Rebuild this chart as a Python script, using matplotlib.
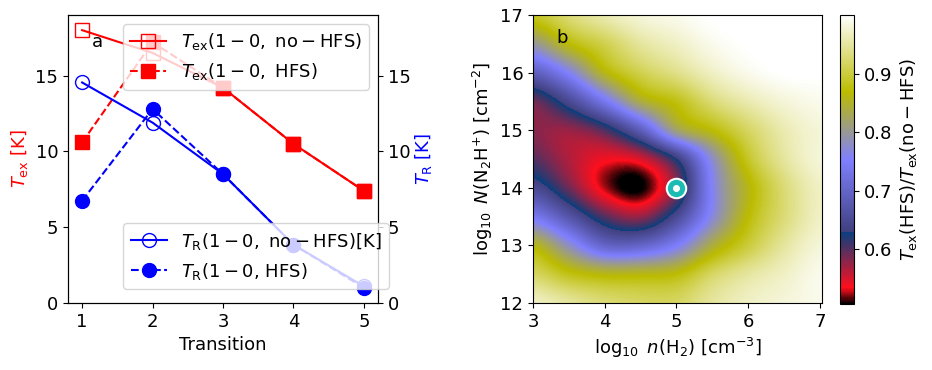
import numpy as np
import matplotlib
matplotlib.use("Agg")
import matplotlib.pyplot as plt

plt.rcParams['font.size'] = 13

# panel a: five transitions
transition = [1, 2, 3, 4, 5]
tex_nohfs = [18.0, 16.5, 14.2, 10.5, 7.4]
tex_hfs = [10.6, 17.2, 14.2, 10.5, 7.4]
tr_nohfs = [14.55, 11.9, 8.5, 3.85, 1.1]
tr_hfs = [6.75, 12.8, 8.5, 3.85, 1.0]

# panel b: ratio Tex(HFS)/Tex(no-HFS) on a coarse grid (read from the map)
log_n = [3.0, 3.5, 4.0, 4.5, 5.0, 5.5, 6.0, 6.5, 7.0]
log_N = [12.0, 12.5, 13.0, 13.5, 14.0, 14.5, 15.0, 15.5, 16.0, 16.5, 17.0]
ratio = [
    [0.97, 0.95, 0.93, 0.92, 0.92, 0.95, 0.97, 0.98, 0.99],  # 12.0
    [0.92, 0.88, 0.86, 0.86, 0.87, 0.92, 0.95, 0.97, 0.99],  # 12.5
    [0.86, 0.78, 0.70, 0.70, 0.75, 0.84, 0.90, 0.95, 0.98],  # 13.0
    [0.74, 0.67, 0.60, 0.575, 0.65, 0.77, 0.87, 0.93, 0.97],  # 13.5
    [0.65, 0.59, 0.525, 0.505, 0.585, 0.76, 0.86, 0.93, 0.97],  # 14.0
    [0.60, 0.565, 0.54, 0.55, 0.63, 0.78, 0.89, 0.95, 0.98],  # 14.5
    [0.58, 0.575, 0.605, 0.69, 0.82, 0.87, 0.92, 0.96, 0.98],  # 15.0
    [0.59, 0.65, 0.74, 0.84, 0.88, 0.93, 0.96, 0.98, 0.99],  # 15.5
    [0.69, 0.76, 0.86, 0.91, 0.94, 0.97, 0.99, 1.0, 1.0],  # 16.0
    [0.80, 0.87, 0.91, 0.95, 0.97, 0.99, 1.0, 1.0, 1.0],  # 16.5
    [0.89, 0.93, 0.96, 0.98, 0.99, 1.0, 1.0, 1.0, 1.0],  # 17.0
]
ref_n, ref_N = 5.0, 14.0

fig = plt.figure(figsize=(9.32, 3.70), dpi=100)

ax1 = fig.add_axes([0.073, 0.181, 0.3326, 0.7784])
ax1.plot(transition, tex_nohfs, 's-', color='r', mfc='none', ms=10, lw=1.5,
         label=r'$T_{\rm ex}(1-0,\ {\rm no-HFS})$')
ax1.plot(transition, tex_hfs, 's--', color='r', ms=10, lw=1.5,
         label=r'$T_{\rm ex}(1-0,\ {\rm HFS})$')
ax1.set_xlim(0.8, 5.2)
ax1.set_ylim(0, 19)
ax1.set_xticks(transition)
ax1.set_yticks([0, 5, 10, 15])
ax1.set_xlabel('Transition')
ax1.set_ylabel(r'$T_{\rm ex}$ [K]', color='r')
ax1.text(1.22, 17.25, 'a', ha='center', va='center')
ax1.legend(loc='upper right')

ax2 = ax1.twinx()
ax2.plot(transition, tr_nohfs, 'o-', color='b', mfc='none', ms=10, lw=1.5,
         label=r'$T_{\rm R}(1-0,\ {\rm no-HFS}) {\rm [K]}$')
ax2.plot(transition, tr_hfs, 'o--', color='b', ms=10, lw=1.5,
         label=r'$T_{\rm R}(1-0$, HFS$)$')
ax2.set_ylim(0, 19)
ax2.set_yticks([0, 5, 10, 15])
ax2.set_ylabel(r'$T_{\rm R}$ [K]', color='b', labelpad=2)
ax2.legend(loc='lower right', bbox_to_anchor=(1.035, 0.049), borderaxespad=0)

ax3 = fig.add_axes([0.5719, 0.181, 0.3101, 0.7784])
dn = (log_n[1] - log_n[0]) / 2
dN = (log_N[1] - log_N[0]) / 2
im = ax3.imshow(np.array(ratio), origin='lower', cmap='gist_stern',
                vmin=0.506, vmax=1.0, interpolation='catrom', aspect='auto',
                extent=[log_n[0] - dn, log_n[-1] + dn, log_N[0] - dN, log_N[-1] + dN])
ax3.plot(ref_n, ref_N, 'o', ms=14, mfc='#1bbcb4', mec='w', mew=1.5)
ax3.plot(ref_n, ref_N, 'o', ms=4, color='w')
ax3.set_xlim(3, 7.03)
ax3.set_ylim(12, 17)
ax3.set_xticks([3, 4, 5, 6, 7])
ax3.set_yticks([12, 13, 14, 15, 16, 17])
ax3.set_xlabel(r'$\log_{10}\ n({\rm H_2})\ [{\rm cm^{-3}}]$')
ax3.set_ylabel(r'$\log_{10}\ N({\rm N_2H^{+}})\ [{\rm cm^{-2}}]$')
ax3.text(3.4, 16.6, 'b', ha='center', va='center')

cax = fig.add_axes([0.9013, 0.178, 0.015, 0.781])
cb = fig.colorbar(im, cax=cax)
cb.set_ticks([0.6, 0.7, 0.8, 0.9])
cb.set_label(r'$T_{\rm ex}({\rm HFS})/T_{\rm ex}({\rm no-HFS})$')

fig.savefig('out.png', dpi=100)
